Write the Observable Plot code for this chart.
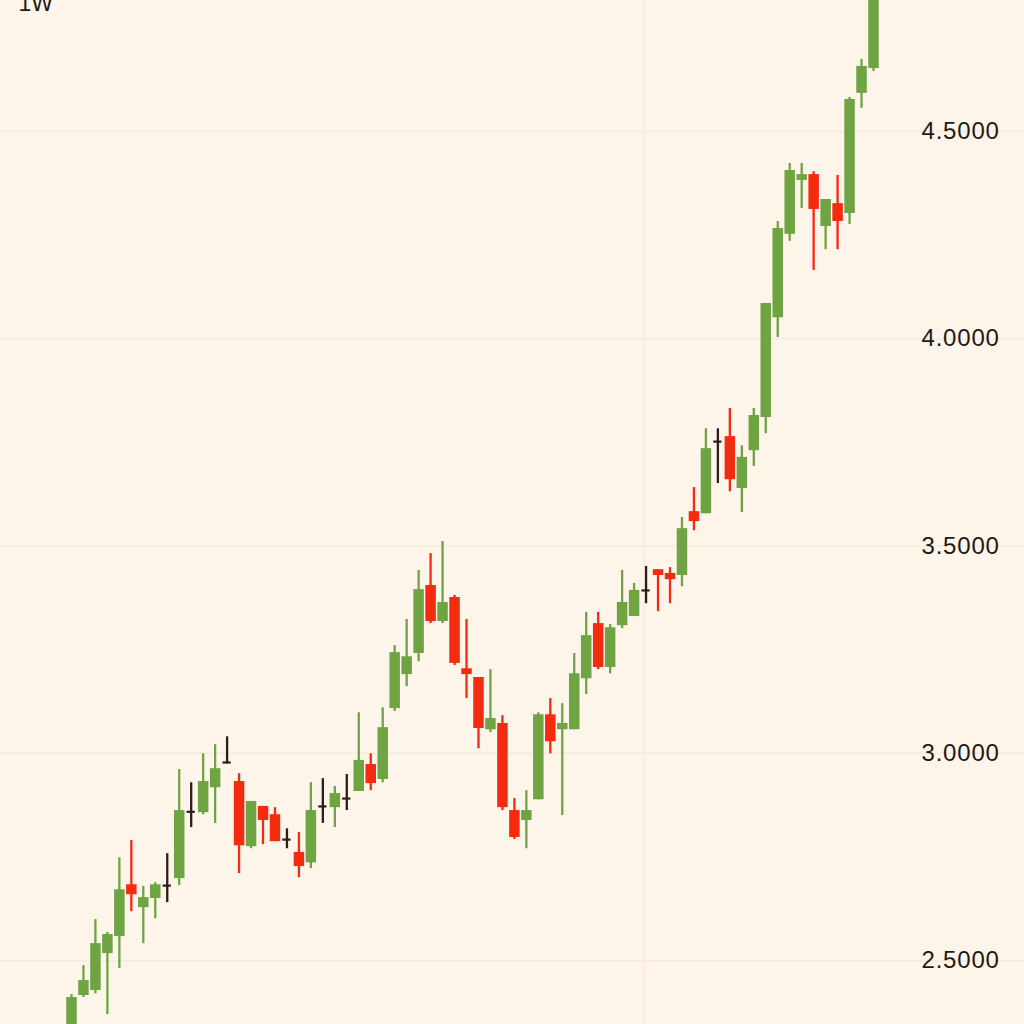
<!DOCTYPE html>
<html>
<head>
<meta charset="utf-8">
<script src="https://cdn.jsdelivr.net/npm/d3@7"></script>
<script src="https://cdn.jsdelivr.net/npm/@observablehq/plot@0.6"></script>
<style>
html, body { margin: 0; padding: 0; background: #fdf5e9; }
#chart svg { display: block; }
#chart svg [aria-label="y-axis tick label"] text { letter-spacing: 0.8px; }
</style>
</head>
<body>
<div id="chart"></div>
<script>
// ---- data (weekly candles) ----
const periodLabel = "1W";
const firstWeek = "2016-02-01";
const opens  = [2.300,2.416,2.428,2.517,2.558,2.683,2.628,2.650,2.681,2.698,2.859,2.857,2.917,2.978,2.932,2.775,2.872,2.852,2.792,2.761,2.736,2.872,2.869,2.891,2.908,2.973,2.937,3.108,3.190,3.241,3.405,3.318,3.376,3.204,3.183,3.057,3.072,2.862,2.838,2.888,3.093,3.057,3.057,3.180,3.313,3.207,3.308,3.330,3.393,3.443,3.434,3.429,3.583,3.578,3.752,3.764,3.639,3.730,3.810,4.051,4.252,4.382,4.396,4.271,4.326,4.302,4.592,4.652];
const highs  = [2.418,2.488,2.599,2.568,2.748,2.790,2.679,2.688,2.758,2.961,2.929,2.999,3.021,3.040,2.951,2.884,2.872,2.869,2.818,2.809,2.929,2.939,2.920,2.949,3.098,2.999,3.110,3.260,3.323,3.441,3.482,3.511,3.381,3.323,3.183,3.202,3.091,2.891,2.910,3.098,3.132,3.120,3.241,3.340,3.340,3.311,3.441,3.410,3.451,3.443,3.448,3.569,3.641,3.783,3.783,3.832,3.742,3.832,4.085,4.283,4.423,4.423,4.403,4.336,4.394,4.582,4.674,4.930];
const lows   = [2.280,2.411,2.420,2.370,2.481,2.618,2.541,2.601,2.640,2.681,2.821,2.852,2.831,2.975,2.710,2.770,2.780,2.787,2.770,2.700,2.722,2.831,2.821,2.862,2.908,2.910,2.929,3.101,3.161,3.221,3.313,3.313,3.212,3.132,3.011,3.050,2.862,2.792,2.770,2.888,2.999,2.850,3.057,3.142,3.202,3.192,3.301,3.330,3.361,3.342,3.361,3.402,3.537,3.578,3.651,3.631,3.581,3.692,3.771,4.003,4.235,4.314,4.165,4.215,4.215,4.276,4.556,4.645];
const closes = [2.411,2.452,2.541,2.563,2.671,2.659,2.652,2.683,2.681,2.862,2.859,2.932,2.963,2.978,2.777,2.884,2.838,2.787,2.792,2.727,2.862,2.872,2.903,2.891,2.983,2.927,3.062,3.243,3.233,3.395,3.318,3.364,3.217,3.190,3.060,3.084,2.869,2.797,2.862,3.093,3.028,3.072,3.192,3.284,3.207,3.303,3.364,3.393,3.393,3.429,3.419,3.542,3.559,3.735,3.752,3.660,3.714,3.815,4.085,4.266,4.406,4.396,4.312,4.336,4.283,4.577,4.657,4.900];
const yTicks = [2.5, 3.0, 3.5, 4.0, 4.5];
const yearLines = ["2017-01-01"];

// ---- styling ----
const bg = "#fdf5e9";
const gridColor = "#f6ebdb";
const upColor = "#6fa443";
const downColor = "#f42b0e";
const flatColor = "#2c1d1a";
const textColor = "#1e1a18";
const font = "'Liberation Sans', Arial, Helvetica, sans-serif";

const DAY = 864e5;
const start = new Date(firstWeek + "T00:00:00Z");
const candles = opens.map((o, i) => ({
  date: new Date(+start + i * 7 * DAY),
  open: o, high: highs[i], low: lows[i], close: closes[i]
}));
const colorOf = d => d.close > d.open ? upColor : d.close < d.open ? downColor : flatColor;
const dojis = candles.filter(d => d.close === d.open);
const last = candles[candles.length - 1].date;

const W = 1024, H = 1024, MR = 103;
const chart = Plot.plot({
  width: W,
  height: H,
  marginTop: 0,
  marginBottom: 0,
  marginLeft: 0,
  marginRight: MR,
  style: { background: bg, fontFamily: font, fontSize: "24px", color: textColor },
  x: { type: "utc", domain: [new Date(+start - 5.93 * 7 * DAY), new Date(+last + 4.01 * 7 * DAY)], axis: null },
  y: { domain: [2.346, 4.816], axis: null },
  marks: [
    Plot.ruleY(yTicks, { stroke: gridColor, strokeWidth: 1.5, insetRight: -MR }),
    Plot.ruleX(yearLines.map(s => new Date(s + "T00:00:00Z")), { stroke: gridColor, strokeWidth: 1.5 }),
    Plot.ruleX(candles, { x: "date", y1: "low", y2: "high", stroke: colorOf, strokeWidth: 2.3, clip: true }),
    Plot.ruleX(candles, { x: "date", y1: "open", y2: "close", stroke: colorOf, strokeWidth: 10.5, clip: true }),
    Plot.ruleY(dojis, {
      y: "open",
      x1: d => new Date(+d.date - 2.4 * DAY),
      x2: d => new Date(+d.date + 2.4 * DAY),
      stroke: flatColor, strokeWidth: 2.2
    }),
    Plot.axisY(yTicks, {
      anchor: "right", tickSize: 0, tickPadding: 0, label: null,
      tickFormat: d3.format(".4f"), fontSize: 24, fill: textColor, textAnchor: "start"
    }),
    Plot.text([periodLabel], {
      frameAnchor: "top-left", dx: 18, dy: 3, lineAnchor: "middle", textAnchor: "start",
      fontSize: 23, fill: textColor
    })
  ]
});
document.getElementById("chart").append(chart);
</script>
</body>
</html>
